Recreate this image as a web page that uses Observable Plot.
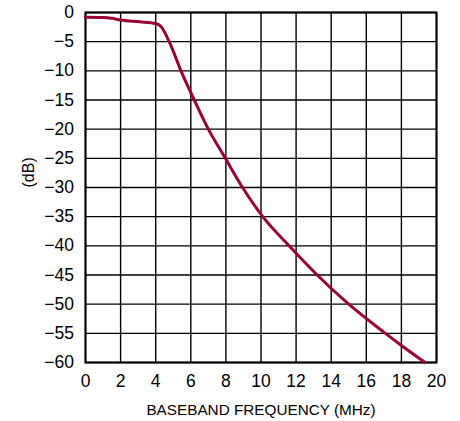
<!DOCTYPE html>
<html>
<head>
<meta charset="utf-8">
<script src="https://cdn.jsdelivr.net/npm/d3@7"></script>
<script src="https://cdn.jsdelivr.net/npm/@observablehq/plot@0.6"></script>
<style>
  html, body { margin: 0; padding: 0; background: #fff; }
  #chart { width: 460px; height: 421px; }
</style>
</head>
<body>
<div id="chart"></div>
<script>
const freqMHz = [0, 1, 1.5, 2, 3.1, 4.0, 4.3, 4.77, 5.44, 6.2, 7.0, 7.97, 8.95, 10.1, 11.6, 13.2, 15.0, 17.0, 18.1, 19.35];
const gainDb  = [-0.8, -0.85, -1.0, -1.3, -1.6, -1.9, -2.4, -5, -10, -15, -20, -25, -30, -35, -40, -45, -50, -54.8, -57.3, -60];
const xTicks = [0, 2, 4, 6, 8, 10, 12, 14, 16, 18, 20];
const yTicks = [0, -5, -10, -15, -20, -25, -30, -35, -40, -45, -50, -55, -60];
const xLabel = "BASEBAND FREQUENCY (MHz)";
const yLabel = "(dB)";

const data = freqMHz.map((f, i) => ({f, g: gainDb[i]}));
const fmt = d => String(d).replace("-", "\u2212");

const chart = Plot.plot({
  width: 460,
  height: 421,
  marginLeft: 85,
  marginRight: 24,
  marginTop: 12,
  marginBottom: 59,
  style: {fontFamily: "'Liberation Sans', Arial, sans-serif", fontSize: "17.5px", color: "#000", background: "#fff"},
  x: {domain: [0, 20], label: null},
  y: {domain: [-60, 0], label: null},
  marks: [
    Plot.gridX(xTicks, {stroke: "#000", strokeOpacity: 1, strokeWidth: 1.4}),
    Plot.gridY(yTicks, {stroke: "#000", strokeOpacity: 1, strokeWidth: 1.4}),
    Plot.frame({stroke: "#000", strokeWidth: 2}),
    Plot.axisX(xTicks, {tickSize: 0, tickPadding: 12, tickFormat: fmt, label: null, fontSize: 17.5}),
    Plot.axisY(yTicks, {tickSize: 0, tickPadding: 11.5, tickFormat: fmt, label: null, fontSize: 17.5}),
    Plot.line(data, {x: "f", y: "g", stroke: "#990033", strokeWidth: 3, curve: "monotone-x"}),
    Plot.text([xLabel], {frameAnchor: "bottom", dy: 52, fontSize: 15.3, fill: "#000"}),
    Plot.text([yLabel], {frameAnchor: "left", dx: -57, rotate: -90, fontSize: 16, fill: "#000"})
  ]
});
document.getElementById("chart").appendChild(chart);
</script>
</body>
</html>
